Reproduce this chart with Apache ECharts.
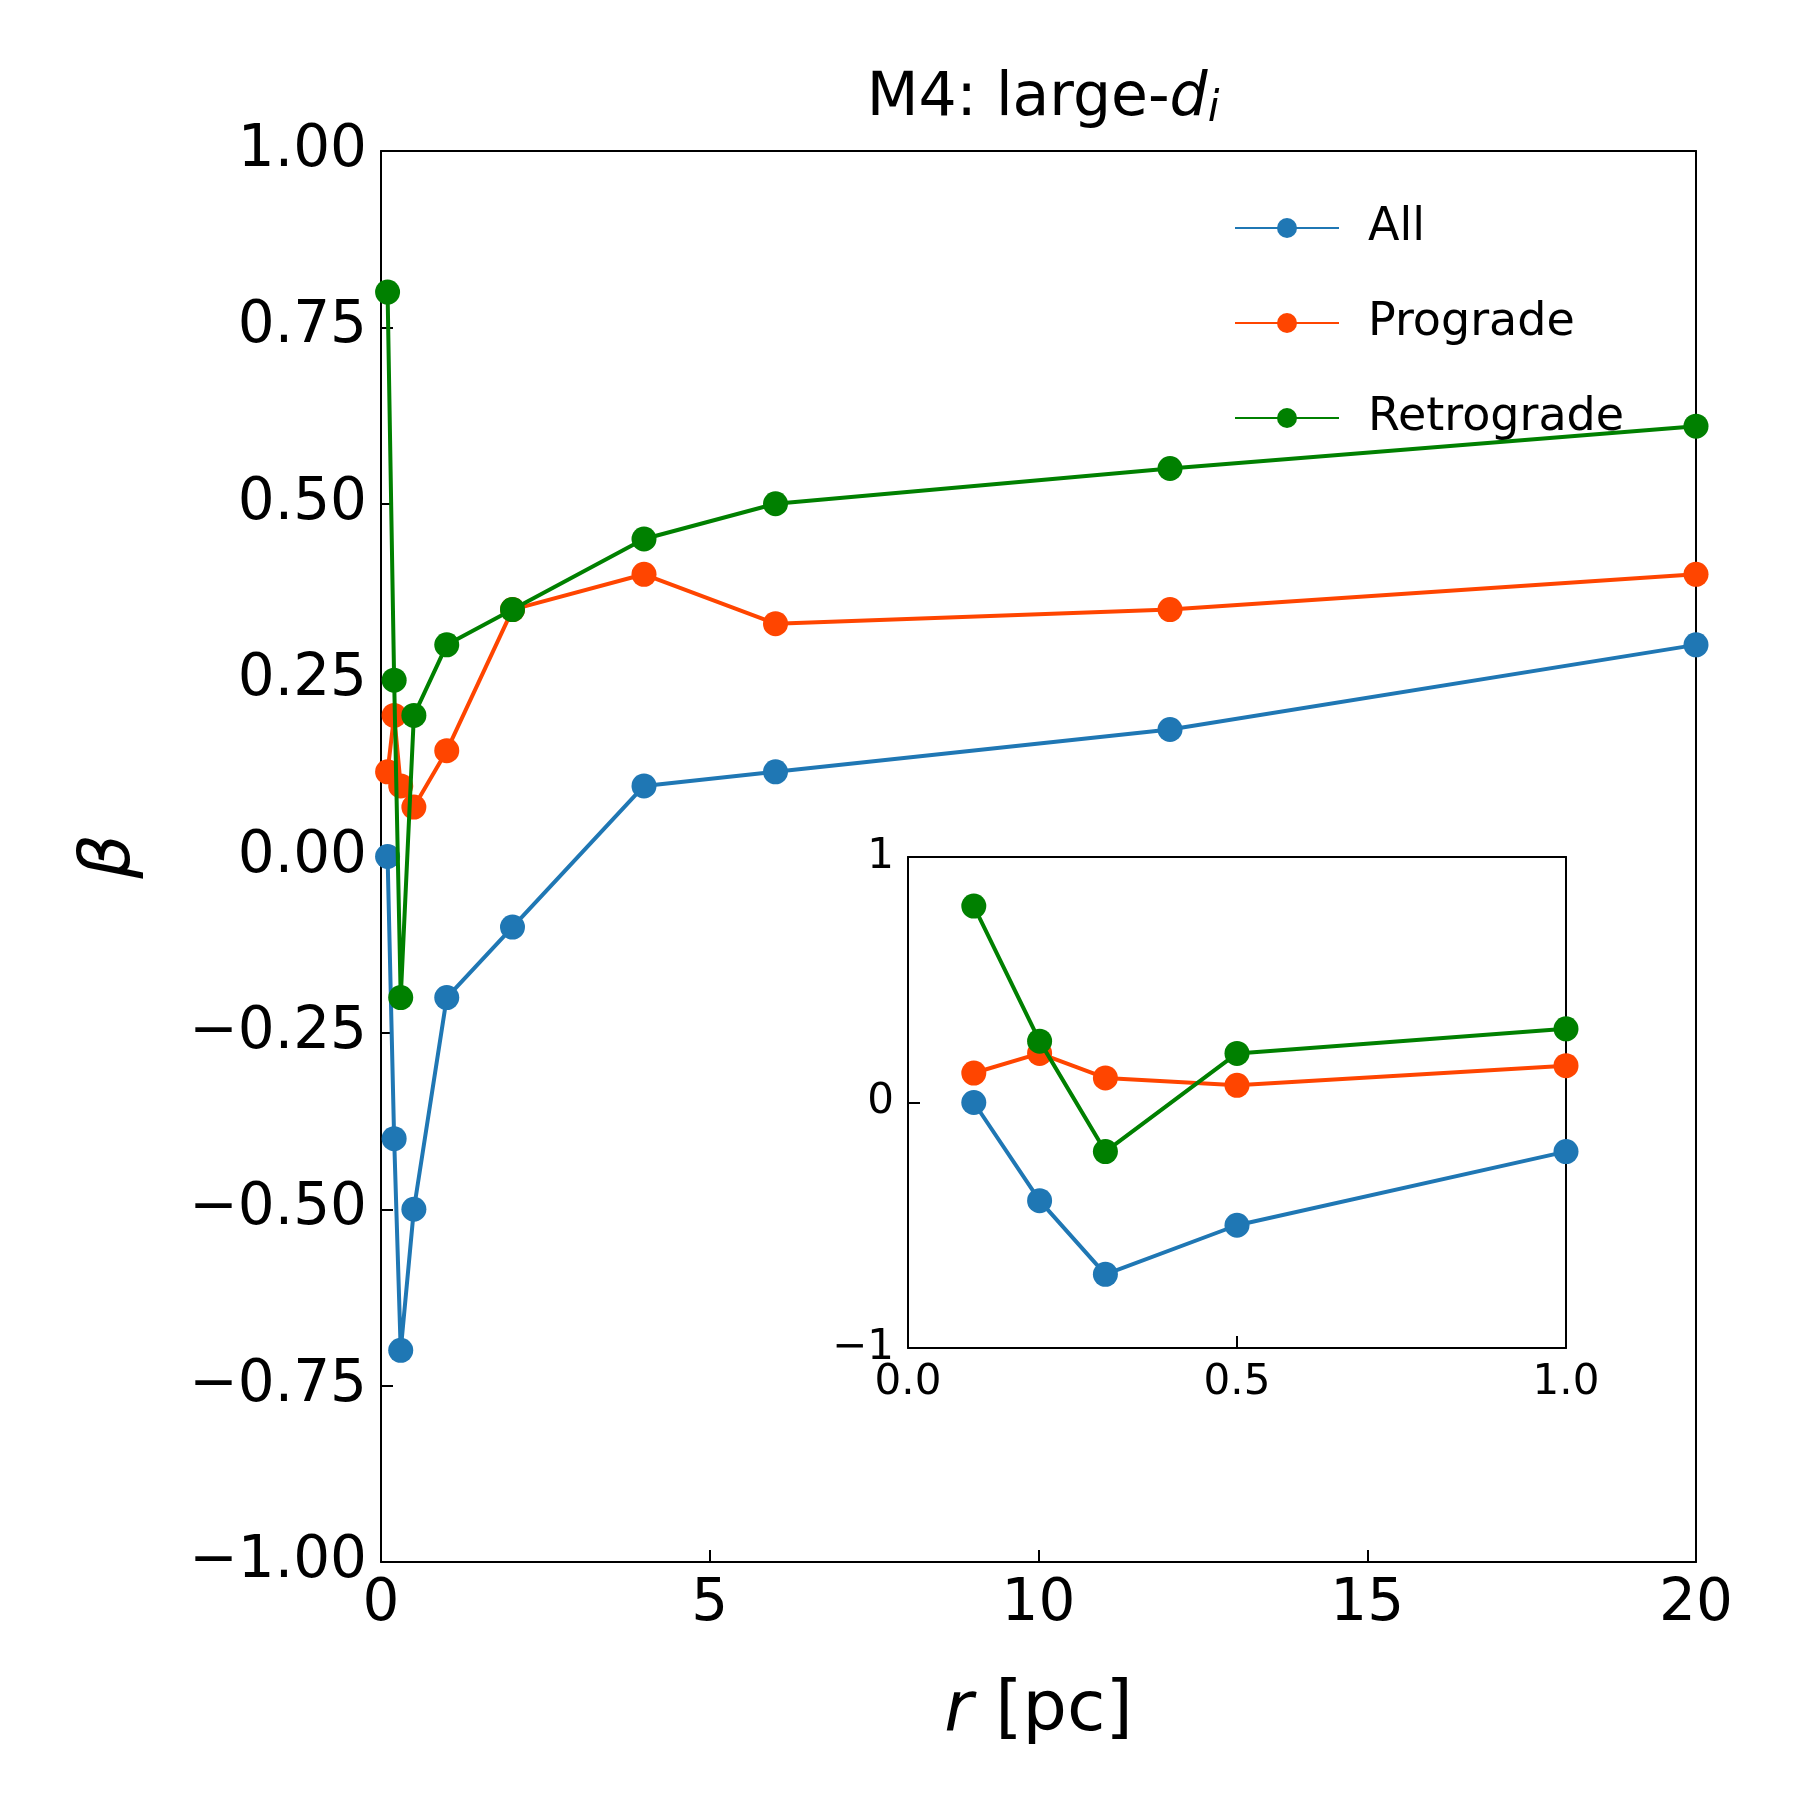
<!DOCTYPE html>
<html>
<head>
<meta charset="utf-8">
<script src="https://cdn.jsdelivr.net/npm/echarts@6/dist/echarts.min.js"></script>
<style>html,body{margin:0;padding:0;background:#fff}#main{width:1800px;height:1800px}</style>
</head>
<body>
<div id="main"></div>
<script>
var rVals = [0.1, 0.2, 0.3, 0.5, 1, 2, 4, 6, 12, 20];
var allVals = [0, -0.4, -0.7, -0.5, -0.2, -0.1, 0.1, 0.12, 0.18, 0.3];
var progradeVals = [0.12, 0.2, 0.1, 0.07, 0.15, 0.35, 0.4, 0.33, 0.35, 0.4];
var retrogradeVals = [0.8, 0.25, -0.2, 0.2, 0.3, 0.35, 0.45, 0.5, 0.55, 0.61];
var seriesNames = ['All', 'Prograde', 'Retrograde'];
var seriesColors = ['#1f77b4', '#ff4500', '#008000'];

var font = 'DejaVu Sans';
var chart = echarts.init(document.getElementById('main'));

function pairs(ys) {
	return rVals.map(function (x, i) { return [x, ys[i]]; });
}
var sets = [allVals, progradeVals, retrogradeVals];

function axisBase(min, max, interval, fs, showLabel) {
	return {
		type: 'value', min: min, max: max, interval: interval,
		axisLine: { show: true, onZero: false, lineStyle: { color: '#000', width: 2 } },
		axisTick: { show: true, inside: true, length: 12, lineStyle: { color: '#000', width: 2 } },
		axisLabel: { show: showLabel, color: '#000', fontSize: fs, fontFamily: font, margin: 14 },
		splitLine: { show: false }
	};
}

var series = [];
sets.forEach(function (ys, i) {
	[0, 1].forEach(function (g) {
		series.push({
			name: seriesNames[i], type: 'line', xAxisIndex: g, yAxisIndex: g,
			data: pairs(ys), symbol: 'circle', symbolSize: 25,
			itemStyle: { color: seriesColors[i] },
			lineStyle: { color: seriesColors[i], width: 4 },
			clip: true, animation: false, z: 2 + i
		});
	});
});

// main axes
var xMain = axisBase(0, 20, 5, 58, true);
xMain.gridIndex = 0;
xMain.name = '{i|r} [pc]';
xMain.nameLocation = 'middle';
xMain.nameGap = 115;
xMain.nameTextStyle = { fontSize: 70, fontFamily: font, color: '#000', rich: { i: { fontStyle: 'italic', fontSize: 70, fontFamily: font } } };
var xTop = axisBase(0, 20, 5, 58, false);
xTop.gridIndex = 0; xTop.position = 'top'; xTop.axisTick = { show: false };

var yMain = axisBase(-1, 1, 0.25, 58, true);
yMain.gridIndex = 0;
yMain.axisLabel.formatter = function (v) { return (v < 0 ? '\u2212' : '') + Math.abs(v).toFixed(2); };
yMain.name = 'β';
yMain.nameLocation = 'middle';
yMain.nameGap = 235;
yMain.nameRotate = 90;
yMain.nameTextStyle = { fontSize: 70, fontStyle: 'italic', fontFamily: font, color: '#000' };
var yRight = axisBase(-1, 1, 0.25, 58, false);
yRight.gridIndex = 0; yRight.position = 'right'; yRight.axisTick = { show: false };

// inset axes
var xIn = axisBase(0, 1, 0.5, 42, true);
xIn.gridIndex = 1;
xIn.axisLabel.formatter = function (v) { return v.toFixed(1); };
var xInTop = axisBase(0, 1, 0.5, 42, false);
xInTop.gridIndex = 1; xInTop.position = 'top'; xInTop.axisTick = { show: false };
var yIn = axisBase(-1, 1, 1, 42, true);
yIn.gridIndex = 1;
yIn.axisLabel.formatter = function (v) { return (v < 0 ? '\u2212' : '') + Math.abs(v); };
var yInRight = axisBase(-1, 1, 1, 42, false);
yInRight.gridIndex = 1; yInRight.position = 'right'; yInRight.axisTick = { show: false };

chart.setOption({
	backgroundColor: '#fff',
	animation: false,
	title: {
		text: 'M4: large-{i|d}{s|i}',
		left: 1038, top: 62, textAlign: 'center',
		textStyle: {
			fontSize: 60, fontWeight: 'normal', fontFamily: font, color: '#000',
			rich: {
				i: { fontStyle: 'italic', fontSize: 60, fontFamily: font },
				s: { fontStyle: 'italic', fontSize: 42, fontFamily: font, verticalAlign: 'bottom', padding: [22, 0, 0, 0] }
			}
		}
	},
	legend: {
		data: seriesNames, orient: 'vertical', left: 1229, top: 200,
		itemWidth: 104, itemHeight: 25, itemGap: 49,
		textStyle: { fontSize: 46, fontFamily: font, color: '#000', padding: [0, 0, 0, 24] }
	},
	grid: [
		{ left: 381, top: 151, width: 1315, height: 1411, containLabel: false },
		{ left: 908, top: 857, width: 658, height: 491, containLabel: false, backgroundColor: '#fff', show: true, borderWidth: 0 }
	],
	xAxis: [xMain, xIn, xTop, xInTop].map(function (a, k) { return a; }),
	yAxis: [yMain, yIn, yRight, yInRight],
	series: series
});
</script>
</body>
</html>
